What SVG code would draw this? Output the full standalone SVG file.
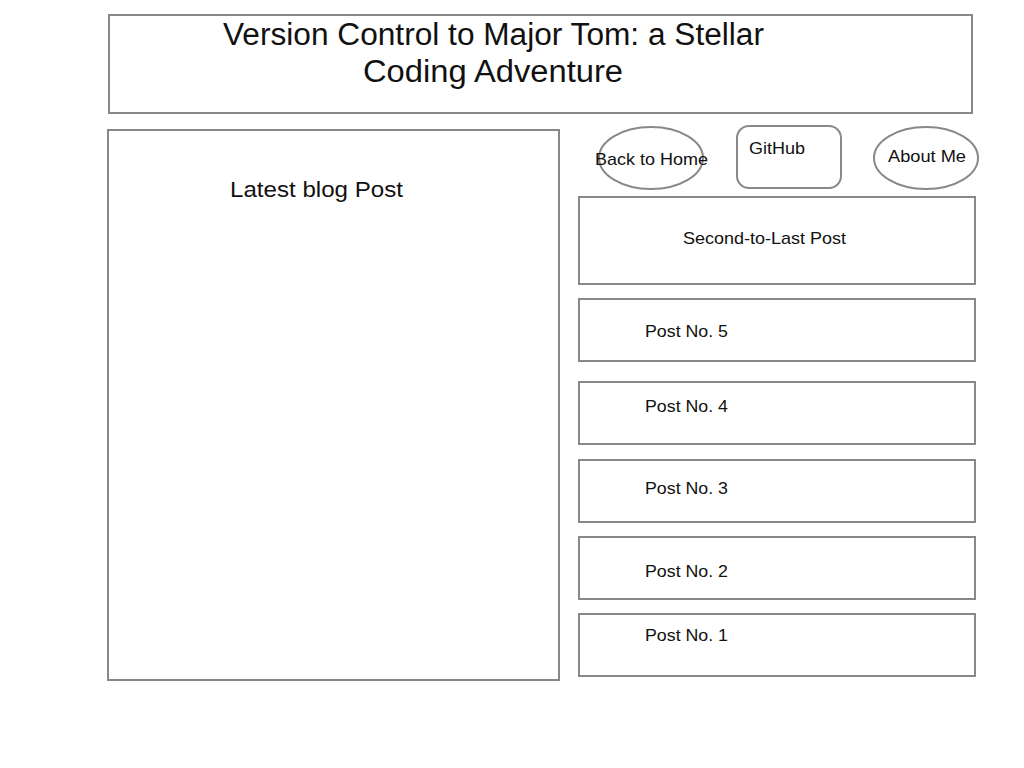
<svg xmlns="http://www.w3.org/2000/svg" width="1024" height="768" viewBox="0 0 1024 768">
<style>
.box{fill:#fff;stroke:#888;stroke-width:2}
text{font-family:"Liberation Sans",Arial,sans-serif;fill:#111}
.t{font-size:31px}
.m{font-size:22px}
.s{font-size:17px}
</style>
<rect width="1024" height="768" fill="#fff"/>
<g id="header">
<rect class="box" x="109" y="15" width="863" height="98"/>
<text class="t" x="493.5" y="45" text-anchor="middle" textLength="541" lengthAdjust="spacingAndGlyphs">Version Control to Major Tom: a Stellar</text>
<text class="t" x="493" y="82" text-anchor="middle" textLength="260" lengthAdjust="spacingAndGlyphs">Coding Adventure</text>
</g>
<g id="latest">
<rect class="box" x="108" y="130" width="451" height="550"/>
<text class="m" x="316.5" y="197" text-anchor="middle" textLength="173" lengthAdjust="spacingAndGlyphs">Latest blog Post</text>
</g>
<g id="home">
<ellipse class="box" cx="651" cy="158" rx="52" ry="31"/>
<text class="s" x="651.5" y="165" text-anchor="middle" textLength="113" lengthAdjust="spacingAndGlyphs">Back to Home</text>
</g>
<g id="github">
<rect class="box" x="737" y="126" width="104" height="62" rx="12"/>
<text class="s" x="777" y="154" text-anchor="middle" textLength="56" lengthAdjust="spacingAndGlyphs">GitHub</text>
</g>
<g id="about">
<ellipse class="box" cx="926" cy="158" rx="52" ry="31"/>
<text class="s" x="927" y="162" text-anchor="middle" textLength="78" lengthAdjust="spacingAndGlyphs">About Me</text>
</g>
<g id="second">
<rect class="box" x="579" y="197" width="396" height="87"/>
<text class="s" x="764.5" y="244" text-anchor="middle" textLength="163" lengthAdjust="spacingAndGlyphs">Second-to-Last Post</text>
</g>
<g id="post5">
<rect class="box" x="579" y="299" width="396" height="62"/>
<text class="s" x="645" y="337" textLength="83" lengthAdjust="spacingAndGlyphs">Post No. 5</text>
</g>
<g id="post4">
<rect class="box" x="579" y="382" width="396" height="62"/>
<text class="s" x="645" y="412" textLength="83" lengthAdjust="spacingAndGlyphs">Post No. 4</text>
</g>
<g id="post3">
<rect class="box" x="579" y="460" width="396" height="62"/>
<text class="s" x="645" y="494" textLength="83" lengthAdjust="spacingAndGlyphs">Post No. 3</text>
</g>
<g id="post2">
<rect class="box" x="579" y="537" width="396" height="62"/>
<text class="s" x="645" y="577" textLength="83" lengthAdjust="spacingAndGlyphs">Post No. 2</text>
</g>
<g id="post1">
<rect class="box" x="579" y="614" width="396" height="62"/>
<text class="s" x="645" y="641" textLength="83" lengthAdjust="spacingAndGlyphs">Post No. 1</text>
</g>
<g id="connectors"></g>
</svg>
